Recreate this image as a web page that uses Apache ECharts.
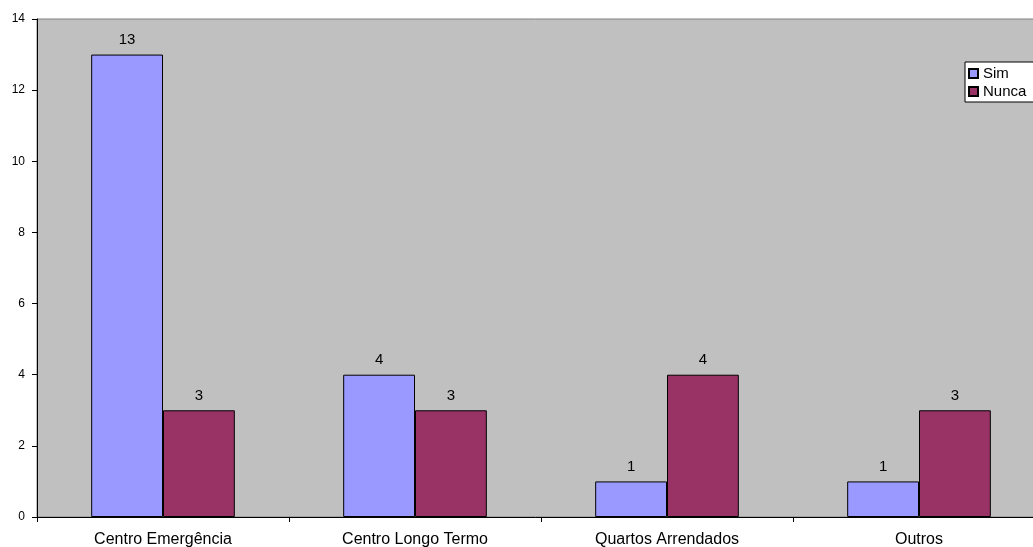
<!DOCTYPE html>
<html>
<head>
<meta charset="utf-8">
<script src="https://cdn.jsdelivr.net/npm/echarts@6/dist/echarts.min.js"></script>
<style>
  html, body { margin: 0; padding: 0; background: #ffffff; overflow: hidden; }
  #chart { width: 1033px; height: 547px; }
</style>
</head>
<body>
<div id="chart"></div>
<script>
// Accommodation categories and counts per answer
const categories = ['Centro Emergência', 'Centro Longo Termo', 'Quartos Arrendados', 'Outros'];
const simValues = [13, 4, 1, 1];
const nuncaValues = [3, 3, 4, 3];
const seriesNames = ['Sim', 'Nunca'];

const chart = echarts.init(document.getElementById('chart'));

const labelStyle = {
  show: true,
  position: 'top',
  distance: 7,
  color: '#000',
  fontFamily: 'Liberation Sans, Arial, sans-serif',
  fontSize: 15
};

chart.setOption({
  animation: false,
  textStyle: { fontFamily: 'Liberation Sans, Arial, sans-serif' },
  grid: {
    // plot area runs slightly past the right edge of the canvas
    left: 37,
    width: 1008,
    top: 19,
    bottom: 30,
    outerBoundsMode: 'none',
    containLabel: false,
    show: true,
    backgroundColor: '#c0c0c0',
    borderColor: '#808080',
    borderWidth: 1
  },
  legend: {
    orient: 'vertical',
    left: 965,
    top: 62,
    itemWidth: 9,
    itemHeight: 9,
    itemGap: 3,
    padding: [4, 20, 3, 3],
    backgroundColor: '#ffffff',
    borderColor: '#000',
    borderWidth: 1,
    borderRadius: 0,
    icon: 'rect',
    textStyle: { fontSize: 15, lineHeight: 15, color: '#000' },
    data: seriesNames
  },
  xAxis: {
    type: 'category',
    data: categories,
    boundaryGap: true,
    axisLine: { lineStyle: { color: '#000', width: 1 } },
    axisTick: { show: true, length: 5, lineStyle: { color: '#000' } },
    axisLabel: { color: '#000', fontSize: 16, margin: 15 },
    splitLine: { show: false }
  },
  yAxis: {
    type: 'value',
    min: 0,
    max: 14,
    interval: 2,
    axisLine: { show: true, lineStyle: { color: '#000', width: 1 } },
    axisTick: { show: true, length: 5, lineStyle: { color: '#000' } },
    axisLabel: { color: '#000', fontSize: 12, margin: 12 },
    splitLine: { show: false }
  },
  series: [
    {
      name: seriesNames[0],
      type: 'bar',
      data: simValues,
      barGap: '0%',
      barCategoryGap: '43%',
      itemStyle: { color: '#9999ff', borderColor: '#000', borderWidth: 1 },
      label: labelStyle
    },
    {
      name: seriesNames[1],
      type: 'bar',
      data: nuncaValues,
      barGap: '0%',
      barCategoryGap: '43%',
      itemStyle: { color: '#993366', borderColor: '#000', borderWidth: 1 },
      label: labelStyle
    }
  ]
});
</script>
</body>
</html>
